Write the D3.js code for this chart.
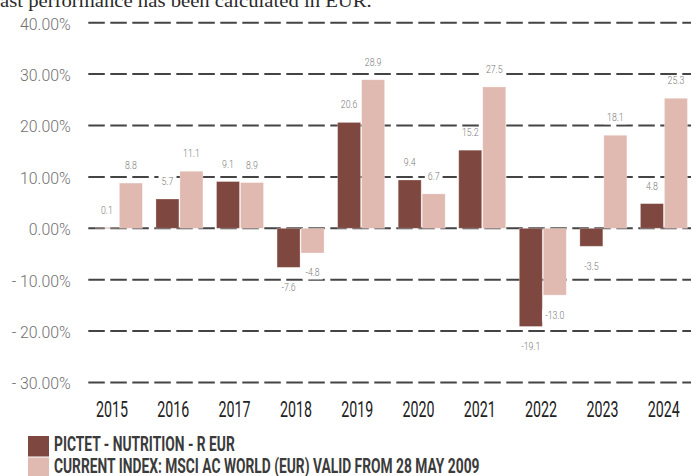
<!DOCTYPE html>
<html>
<head>
<meta charset="utf-8">
<script src="https://cdn.jsdelivr.net/npm/d3@7/dist/d3.min.js"></script>
<style>
  html, body { margin: 0; padding: 0; background: #fff; }
  svg { display: block; }
</style>
</head>
<body>
<svg id="chart" width="691" height="476"></svg>
<script>
// ---- data ----
const years = ["2015","2016","2017","2018","2019","2020","2021","2022","2023","2024"];
const fundValues = [0.1, 5.7, 9.1, -7.6, 20.6, 9.4, 15.2, -19.1, -3.5, 4.8];
const indexValues = [8.8, 11.1, 8.9, -4.8, 28.9, 6.7, 27.5, -13.0, 18.1, 25.3];
const yTickValues = [40, 30, 20, 10, 0, -10, -20, -30];
const seriesKeys = ["fund", "index"];
const seriesNames = ["PICTET - NUTRITION - R EUR", "CURRENT INDEX: MSCI AC WORLD (EUR) VALID FROM 28 MAY 2009"];
const noteText = "Past performance has been calculated in EUR.";

// ---- style ----
const colors = { fund: "#7e4840", index: "#e0b9b0" };
const condensed = "Roboto,'Liberation Sans',Arial,sans-serif";

const svg = d3.select("#chart");

// measure helper for horizontal compression of condensed text
function measure(text, font, size, weight) {
  const t = svg.append("text").attr("font-family", font).attr("font-size", size)
    .attr("font-weight", weight || "normal").text(text);
  const w = t.node().getComputedTextLength();
  t.remove();
  return w;
}

// ---- scales ----
const y = d3.scaleLinear().domain([-30, 40]).range([382.5, 22.7]);
const x = d3.scaleBand().domain(years).range([88.6, 694.2]).paddingInner(0.224).paddingOuter(0.112);
const xs = d3.scaleBand().domain(seriesKeys).range([0, x.bandwidth()]).paddingInner(0.042);
const xLabel = d3.scaleBand().domain(years).range([81.35, 694.35]);

// ---- note text (cropped at top) ----
(function () {
  const size = 19;
  const font = "'Liberation Serif','DejaVu Serif',serif";
  const pW = measure("P", font, size);
  const restW = measure(noteText.slice(1), font, size);
  const k = 372 / restW;
  svg.append("text")
    .attr("transform", `translate(0,6.5) scale(${k},1)`)
    .attr("x", -pW).attr("y", 0)
    .attr("font-family", font).attr("font-size", size).attr("fill", "#2b2b2b")
    .text(noteText);
})();

// ---- grid ----
svg.append("g").selectAll("line").data(yTickValues).join("line")
  .attr("x1", 88.3).attr("x2", 691)
  .attr("y1", d => y(d)).attr("y2", d => y(d))
  .attr("stroke", "#444").attr("stroke-width", 2)
  .attr("stroke-dasharray", "16.5,5.5");

// ---- y tick labels ----
const tickFmt = d => d < 0 ? "- " + Math.abs(d).toFixed(2) + "%" : d.toFixed(2) + "%";
(function () {
  const size = 17;
  const k = 50.7 / measure("30.00%", condensed, size, 300);
  svg.append("g").selectAll("text").data(yTickValues).join("text")
    .attr("transform", d => `translate(70.7,${y(d) + 6.8}) scale(${k},1)`)
    .attr("text-anchor", "end")
    .attr("font-family", condensed).attr("font-size", size).attr("font-weight", 300).attr("fill", "#707070")
    .text(tickFmt);
})();

// ---- bars ----
const rows = years.map((yr, i) => ({ year: yr, fund: fundValues[i], index: indexValues[i] }));
const groups = svg.append("g").selectAll("g").data(rows).join("g")
  .attr("transform", d => `translate(${x(d.year)},0)`);

groups.selectAll("rect").data(d => seriesKeys.map(k => ({ key: k, value: d[k] }))).join("rect")
  .attr("x", d => xs(d.key))
  .attr("width", xs.bandwidth())
  .attr("y", d => y(Math.max(0, d.value)))
  .attr("height", d => Math.abs(y(d.value) - y(0)))
  .attr("fill", d => colors[d.key])
  .attr("stroke", "#fff").attr("stroke-opacity", 0.35).attr("stroke-width", 0.8);

// ---- value labels ----
(function () {
  const size = 10.5;
  const k = 16.7 / measure("20.6", condensed, size, 300);
  const lab = groups.selectAll("g.lab").data(d => seriesKeys.map(key => ({ key, value: d[key] }))).join("g")
    .attr("class", "lab")
    .attr("transform", d => {
      const cx = xs(d.key) + xs.bandwidth() / 2;
      const by = d.value >= 0 ? y(d.value) - 14 : y(d.value) + 23.5;
      return `translate(${cx},${by})`;
    });
  lab.each(function (d) {
    const g = d3.select(this);
    const txt = d.value.toFixed(1);
    const w = measure(txt, condensed, size, 300) * k;
    g.append("rect").attr("x", -w / 2 - 3).attr("y", -9).attr("width", w + 6).attr("height", 12).attr("fill", "#fff");
    g.append("text").attr("transform", `scale(${k},1)`)
      .attr("text-anchor", "middle")
      .attr("font-family", condensed).attr("font-size", size).attr("font-weight", 300).attr("fill", "#7a7a7a")
      .text(txt);
  });
})();

// ---- x axis labels ----
(function () {
  const size = 22;
  const k = 32 / measure("2015", condensed, size, 400);
  svg.append("g").selectAll("text").data(years).join("text")
    .attr("transform", d => `translate(${xLabel(d) + xLabel.bandwidth() / 2},416.5) scale(${k},1)`)
    .attr("text-anchor", "middle")
    .attr("font-family", condensed).attr("font-size", size).attr("font-weight", 400).attr("fill", "#222")
    .text(d => d);
})();

// ---- legend ----
(function () {
  const size = 19.5;
  const k = 181 / measure(seriesNames[0], condensed, size, "bold");
  const lg = svg.append("g").selectAll("g").data(seriesKeys).join("g")
    .attr("transform", (d, i) => `translate(28,${436 + i * 21.5})`);
  lg.append("rect").attr("width", 21).attr("height", 20.5).attr("fill", d => colors[d]);
  lg.append("text")
    .attr("transform", `translate(26,15.3) scale(${k},1)`)
    .attr("font-family", condensed).attr("font-size", size).attr("font-weight", "bold").attr("fill", "#3b3b3b")
    .text((d, i) => seriesNames[i]);
})();
</script>
</body>
</html>
